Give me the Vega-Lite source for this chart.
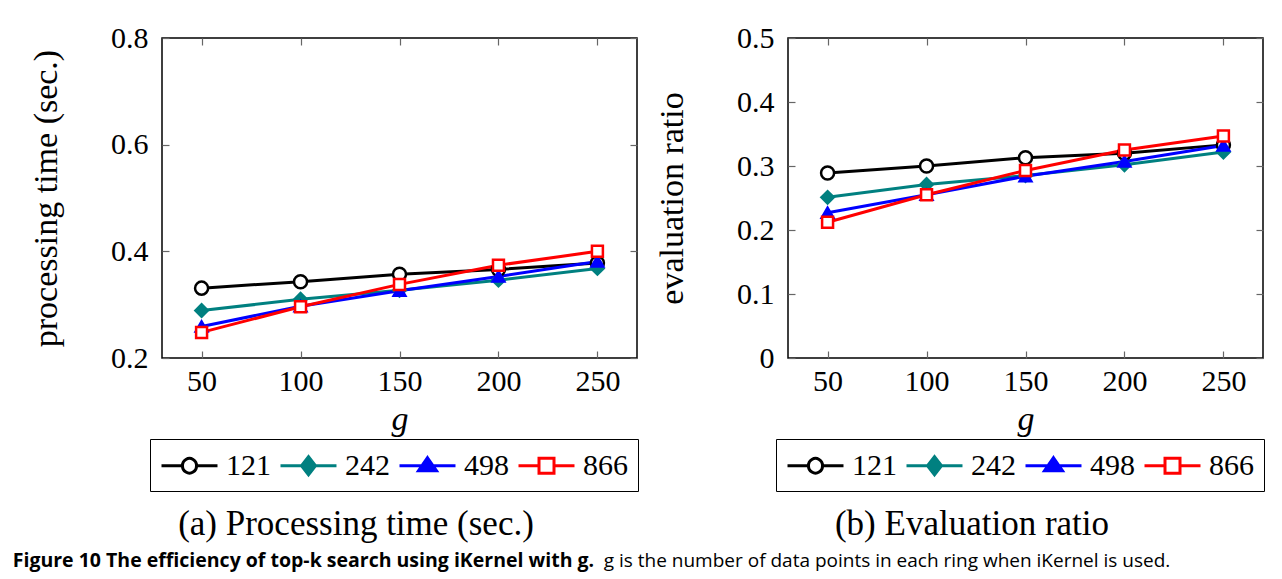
{
  "$schema": "https://vega.github.io/schema/vega-lite/v6.json",
  "background": "white",
  "padding": {"left": 12, "top": 22, "right": 4, "bottom": 4},
  "config": {
    "font": "Liberation Serif",
    "view": {"stroke": "black", "strokeWidth": 1.5},
    "axis": {
      "grid": false, "domain": false,
      "labelFont": "Liberation Serif", "labelFontSize": 30, "labelColor": "black",
      "titleFont": "Liberation Serif", "titleFontSize": 34, "titleFontWeight": "normal", "titleColor": "black",
      "tickColor": "#666", "tickSize": -7, "tickWidth": 1.2
    },
    "legend": {
      "labelFont": "Liberation Serif", "labelFontSize": 30, "labelColor": "black"
    },
    "title": {"color": "black"}
  },
  "datasets": {
    "time": [
      {"g": 50, "series": "121", "value": 0.331}, {"g": 100, "series": "121", "value": 0.343}, {"g": 150, "series": "121", "value": 0.357}, {"g": 200, "series": "121", "value": 0.366}, {"g": 250, "series": "121", "value": 0.378},
      {"g": 50, "series": "242", "value": 0.289}, {"g": 100, "series": "242", "value": 0.310}, {"g": 150, "series": "242", "value": 0.327}, {"g": 200, "series": "242", "value": 0.346}, {"g": 250, "series": "242", "value": 0.368},
      {"g": 50, "series": "498", "value": 0.259}, {"g": 100, "series": "498", "value": 0.297}, {"g": 150, "series": "498", "value": 0.326}, {"g": 200, "series": "498", "value": 0.353}, {"g": 250, "series": "498", "value": 0.381},
      {"g": 50, "series": "866", "value": 0.248}, {"g": 100, "series": "866", "value": 0.296}, {"g": 150, "series": "866", "value": 0.338}, {"g": 200, "series": "866", "value": 0.374}, {"g": 250, "series": "866", "value": 0.400}
    ],
    "ratio": [
      {"g": 50, "series": "121", "value": 0.289}, {"g": 100, "series": "121", "value": 0.300}, {"g": 150, "series": "121", "value": 0.313}, {"g": 200, "series": "121", "value": 0.320}, {"g": 250, "series": "121", "value": 0.333},
      {"g": 50, "series": "242", "value": 0.251}, {"g": 100, "series": "242", "value": 0.271}, {"g": 150, "series": "242", "value": 0.285}, {"g": 200, "series": "242", "value": 0.302}, {"g": 250, "series": "242", "value": 0.322},
      {"g": 50, "series": "498", "value": 0.227}, {"g": 100, "series": "498", "value": 0.255}, {"g": 150, "series": "498", "value": 0.284}, {"g": 200, "series": "498", "value": 0.307}, {"g": 250, "series": "498", "value": 0.332},
      {"g": 50, "series": "866", "value": 0.212}, {"g": 100, "series": "866", "value": 0.255}, {"g": 150, "series": "866", "value": 0.293}, {"g": 200, "series": "866", "value": 0.325}, {"g": 250, "series": "866", "value": 0.347}
    ]
  },
  "title": {
    "text": "Figure 10 The efficiency of top-k search using iKernel with g.",
    "orient": "bottom", "anchor": "start", "frame": "bounds",
    "font": "Open Sans", "fontSize": 19.5, "fontWeight": "bold", "color": "black",
    "dx": -16, "offset": -19
  },
  "vconcat": [
    {
      "title": {
        "text": "g is the number of data points in each ring when iKernel is used.",
        "orient": "bottom", "anchor": "start", "frame": "bounds",
        "font": "Open Sans", "fontSize": 19, "fontWeight": "normal", "color": "black",
        "dx": 575, "offset": 10
      },
      "resolve": {"scale": {"color": "independent"}, "legend": {"color": "independent"}},
      "spacing": 14,
      "hconcat": [
        {
          "width": 475, "height": 320,
          "data": {"name": "time"},
          "title": {"text": "(a) Processing time (sec.)", "orient": "bottom", "anchor": "middle", "frame": "bounds", "font": "Liberation Serif", "fontSize": 35, "fontWeight": "normal", "offset": 15, "dx": 22},
          "layer": [
            {
              "mark": {"type": "line", "strokeWidth": 3},
              "encoding": {
                "x": {"field": "g", "type": "quantitative", "scale": {"domain": [30, 270], "nice": false, "zero": false},
                      "axis": {"orient": "bottom", "values": [50, 100, 150, 200, 250], "title": "g", "titleFontStyle": "italic", "labelPadding": 15, "titlePadding": 6}},
                "y": {"field": "value", "type": "quantitative", "scale": {"domain": [0.2, 0.8], "nice": false, "zero": false},
                      "axis": {"orient": "left", "values": [0.2, 0.4, 0.6, 0.8], "format": ".1f", "title": "processing time (sec.)", "labelPadding": 21, "titlePadding": 47}},
                "color": {"field": "series", "type": "nominal",
                  "scale": {"domain": ["121", "242", "498", "866"], "range": ["#000000", "#008080", "#0000ff", "#ff0000"]},
                  "legend": {
                    "orient": "none", "legendX": -12, "legendY": 401, "direction": "horizontal", "title": null,
                    "symbolSize": 900, "symbolStrokeWidth": 3, "labelOffset": 33, "columnPadding": 3, "padding": 10,
                    "strokeColor": "black",
                    "encode": {"symbols": {"update": {
                      "shape": {"signal": "datum.value == '121' ? 'M-1,0H0.4M1.333,0H2.733M1.333,0A0.467,0.467,0,1,1,0.4,0A0.467,0.467,0,1,1,1.333,0Z' : datum.value == '242' ? 'M-1,0H2.733M0.867,-0.6L1.333,0L0.867,0.6L0.4,0Z' : datum.value == '498' ? 'M-1,0H2.733M0.867,-0.533L1.467,0.333L0.267,0.333Z' : 'M-1,0H0.367M1.367,0H2.733M0.367,-0.5H1.367V0.5H0.367Z'"},
                      "fill": {"signal": "datum.value == '242' ? '#008080' : datum.value == '498' ? '#0000ff' : 'white'"},
                      "opacity": {"value": 1}
                    }}}
                  }
                }
              }
            },
            {
              "mark": {"type": "point", "opacity": 1, "strokeWidth": 2.5},
              "encoding": {
                "x": {"field": "g", "type": "quantitative", "axis": null},
                "y": {"field": "value", "type": "quantitative", "axis": null},
                "stroke": {"field": "series", "type": "nominal", "scale": {"domain": ["121", "242", "498", "866"], "range": ["#000000", "#008080", "#0000ff", "#ff0000"]}, "legend": null},
                "fill": {"field": "series", "type": "nominal", "scale": {"domain": ["121", "242", "498", "866"], "range": ["#ffffff", "#008080", "#0000ff", "#ffffff"]}, "legend": null},
                "shape": {"field": "series", "type": "nominal", "scale": {"domain": ["121", "242", "498", "866"], "range": ["circle", "diamond", "triangle-up", "square"]}, "legend": null},
                "size": {"field": "series", "type": "nominal", "scale": {"domain": ["121", "242", "498", "866"], "range": [170, 120, 100, 220]}, "legend": null}
              }
            },
            {
              "mark": {"type": "point", "opacity": 0},
              "encoding": {
                "x": {"field": "g", "type": "quantitative", "axis": {"orient": "top", "values": [50, 100, 150, 200, 250], "labels": false, "title": null}},
                "y": {"field": "value", "type": "quantitative", "axis": {"orient": "right", "values": [0.2, 0.4, 0.6, 0.8], "labels": false, "title": null}}
              }
            }
          ]
        },
        {
          "width": 475, "height": 320,
          "data": {"name": "ratio"},
          "title": {"text": "(b) Evaluation ratio", "orient": "bottom", "anchor": "middle", "frame": "bounds", "font": "Liberation Serif", "fontSize": 35, "fontWeight": "normal", "offset": 15, "dx": 12},
          "layer": [
            {
              "mark": {"type": "line", "strokeWidth": 3},
              "encoding": {
                "x": {"field": "g", "type": "quantitative", "scale": {"domain": [30, 270], "nice": false, "zero": false},
                      "axis": {"orient": "bottom", "values": [50, 100, 150, 200, 250], "title": "g", "titleFontStyle": "italic", "labelPadding": 15, "titlePadding": 6}},
                "y": {"field": "value", "type": "quantitative", "scale": {"domain": [0, 0.5], "nice": false, "zero": false},
                      "axis": {"orient": "left", "values": [0, 0.1, 0.2, 0.3, 0.4, 0.5], "labelExpr": "datum.value == 0 ? '0' : format(datum.value, '.1f')", "title": "evaluation ratio", "labelPadding": 21, "titlePadding": 47}},
                "color": {"field": "series", "type": "nominal",
                  "scale": {"domain": ["121", "242", "498", "866"], "range": ["#000000", "#008080", "#0000ff", "#ff0000"]},
                  "legend": {
                    "orient": "none", "legendX": -12, "legendY": 401, "direction": "horizontal", "title": null,
                    "symbolSize": 900, "symbolStrokeWidth": 3, "labelOffset": 33, "columnPadding": 3, "padding": 10,
                    "strokeColor": "black",
                    "encode": {"symbols": {"update": {
                      "shape": {"signal": "datum.value == '121' ? 'M-1,0H0.4M1.333,0H2.733M1.333,0A0.467,0.467,0,1,1,0.4,0A0.467,0.467,0,1,1,1.333,0Z' : datum.value == '242' ? 'M-1,0H2.733M0.867,-0.6L1.333,0L0.867,0.6L0.4,0Z' : datum.value == '498' ? 'M-1,0H2.733M0.867,-0.533L1.467,0.333L0.267,0.333Z' : 'M-1,0H0.367M1.367,0H2.733M0.367,-0.5H1.367V0.5H0.367Z'"},
                      "fill": {"signal": "datum.value == '242' ? '#008080' : datum.value == '498' ? '#0000ff' : 'white'"},
                      "opacity": {"value": 1}
                    }}}
                  }
                }
              }
            },
            {
              "mark": {"type": "point", "opacity": 1, "strokeWidth": 2.5},
              "encoding": {
                "x": {"field": "g", "type": "quantitative", "axis": null},
                "y": {"field": "value", "type": "quantitative", "axis": null},
                "stroke": {"field": "series", "type": "nominal", "scale": {"domain": ["121", "242", "498", "866"], "range": ["#000000", "#008080", "#0000ff", "#ff0000"]}, "legend": null},
                "fill": {"field": "series", "type": "nominal", "scale": {"domain": ["121", "242", "498", "866"], "range": ["#ffffff", "#008080", "#0000ff", "#ffffff"]}, "legend": null},
                "shape": {"field": "series", "type": "nominal", "scale": {"domain": ["121", "242", "498", "866"], "range": ["circle", "diamond", "triangle-up", "square"]}, "legend": null},
                "size": {"field": "series", "type": "nominal", "scale": {"domain": ["121", "242", "498", "866"], "range": [170, 120, 100, 220]}, "legend": null}
              }
            },
            {
              "mark": {"type": "point", "opacity": 0},
              "encoding": {
                "x": {"field": "g", "type": "quantitative", "axis": {"orient": "top", "values": [50, 100, 150, 200, 250], "labels": false, "title": null}},
                "y": {"field": "value", "type": "quantitative", "axis": {"orient": "right", "values": [0, 0.1, 0.2, 0.3, 0.4, 0.5], "labels": false, "title": null}}
              }
            }
          ]
        }
      ]
    }
  ]
}
